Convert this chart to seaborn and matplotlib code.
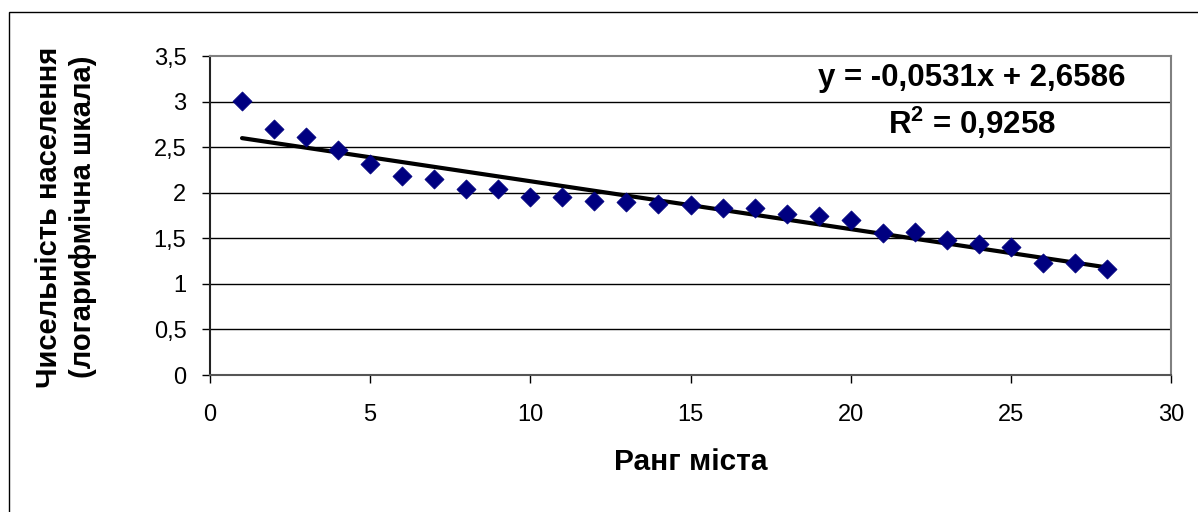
import numpy as np
import pandas as pd
import matplotlib.pyplot as plt
import seaborn as sns
from matplotlib.patches import Rectangle

rank = list(range(1, 29))
log_pop = [3.01, 2.70, 2.61, 2.47, 2.32, 2.18, 2.15, 2.04, 2.04, 1.95,
           1.95, 1.91, 1.90, 1.88, 1.86, 1.83, 1.83, 1.77, 1.74, 1.70,
           1.56, 1.57, 1.48, 1.44, 1.40, 1.23, 1.23, 1.16]
x_ticks = [0, 5, 10, 15, 20, 25, 30]
y_ticks = [0, 0.5, 1, 1.5, 2, 2.5, 3, 3.5]
eq_text = "y = -0,0531x + 2,6586"
r2_text = "R$^\\mathbf{2}$ = 0,9258"

df = pd.DataFrame({'rank': rank, 'log_pop': log_pop})

sns.set_style("white")
plt.rcParams['font.family'] = ['Liberation Sans', 'DejaVu Sans']
plt.rcParams['text.color'] = 'black'
plt.rcParams['axes.labelcolor'] = 'black'
plt.rcParams['mathtext.fontset'] = 'custom'
plt.rcParams['mathtext.bf'] = 'Liberation Sans:bold'
plt.rcParams['mathtext.rm'] = 'Liberation Sans'

fig = plt.figure(figsize=(11.98, 5.12), dpi=100)
ax = fig.add_axes([210 / 1198, 1 - 375 / 512, (1171 - 210) / 1198, (375 - 56) / 512])

# outer chart frame (only left and top edges inside the picture)
fig.patches.append(Rectangle((9 / 1198, -0.1), 1.2, 1 - 12 / 512 + 0.1,
                             transform=fig.transFigure, fill=False,
                             edgecolor='black', linewidth=1.0))

for yv in y_ticks[1:-1]:
    ax.axhline(yv, color='black', linewidth=1.0, zorder=1)

sns.regplot(data=df, x='rank', y='log_pop', scatter=False, ci=None, truncate=True,
            color='black', line_kws={'linewidth': 3.0, 'zorder': 2}, ax=ax)
sns.scatterplot(data=df, x='rank', y='log_pop', marker='D', color='#000080',
                s=95, edgecolor='#000080', linewidth=0.5, zorder=3, ax=ax)

ax.set_xlim(0, 30)
ax.set_ylim(0, 3.5)
ax.set_xticks(x_ticks)
ax.set_yticks(y_ticks)
ax.set_xticklabels([str(v) for v in x_ticks])
ax.set_yticklabels([f"{v:g}".replace('.', ',') for v in y_ticks])
ax.tick_params(axis='both', direction='out', length=6, width=1, colors='black',
               labelsize=17, bottom=True, left=True)
ax.tick_params(axis='x', pad=15)
ax.tick_params(axis='y', pad=11)

for side in ['top', 'right']:
    ax.spines[side].set_color('#808080')
    ax.spines[side].set_linewidth(1.5)
ax.spines['left'].set_color('#222222')
ax.spines['left'].set_linewidth(1.5)
ax.spines['bottom'].set_color('#555555')
ax.spines['bottom'].set_linewidth(1.5)

ax.set_xlabel("Ранг міста", fontsize=21.5, fontweight='bold')
ax.set_ylabel("Чисельність населення\n(логарифмічна шкала)", fontsize=21,
              fontweight='bold', linespacing=1.25)
ax.xaxis.label.set_va('center')
ax.yaxis.label.set_va('center')
ax.xaxis.set_label_coords(0.5, (375 - 462) / 319)
ax.yaxis.set_label_coords((66 - 210) / 961, (375 - 217) / 319)

ax.text(1125 / 1198, 1 - 78 / 512, eq_text, transform=fig.transFigure,
        ha='right', va='center', fontsize=22.5, fontweight='bold')
ax.text(972 / 1198, 1 - 123 / 512, r2_text, transform=fig.transFigure,
        ha='center', va='center', fontsize=22.5, fontweight='bold')

fig.savefig('out.png', dpi=100)
